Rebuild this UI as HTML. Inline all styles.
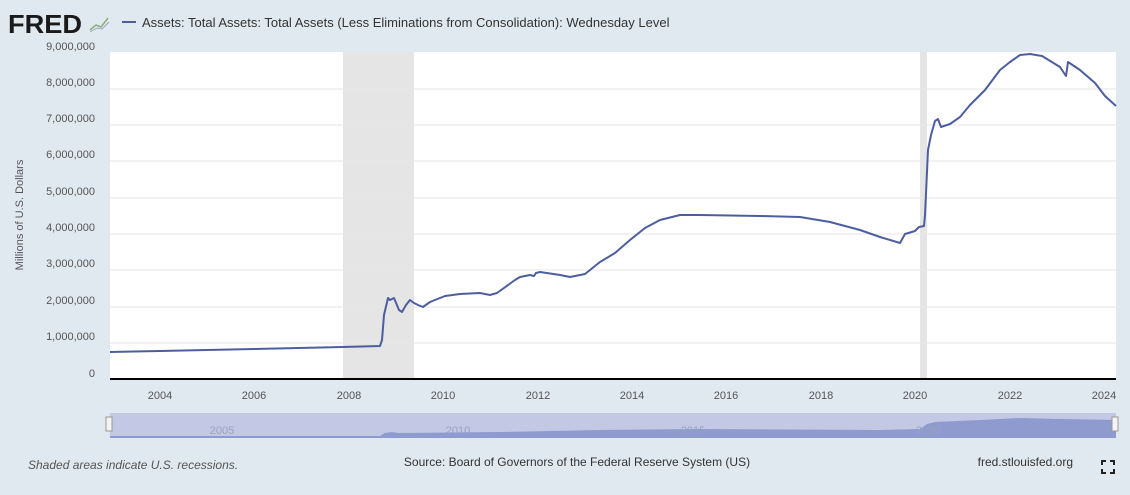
<!DOCTYPE html>
<html><head><meta charset="utf-8"><style>
body{margin:0;background:#e1e9f0;}
svg{display:block;font-family:"Liberation Sans",sans-serif;}
</style></head><body>
<svg width="1130" height="495" viewBox="0 0 1130 495">
<rect width="1130" height="495" fill="#e1e9f0"/>
<text x="8" y="33" font-size="26" font-weight="bold" fill="#1a1a1a" textLength="74" lengthAdjust="spacingAndGlyphs">FRED</text>
<polyline points="90,30 96,25 101,27 108,18" fill="none" stroke="#8ab07a" stroke-width="1.5"/>
<polyline points="90,32 97,28 102,29 109,22" fill="none" stroke="#9aa3c8" stroke-width="1"/>
<line x1="122" y1="22" x2="136" y2="22" stroke="#4d5ea0" stroke-width="2"/>
<text x="142" y="27" font-size="13" fill="#333">Assets: Total Assets: Total Assets (Less Eliminations from Consolidation): Wednesday Level</text>
<rect x="110" y="52" width="1006" height="327" fill="#fff"/>
<rect x="343" y="52" width="71" height="327" fill="#e5e5e5"/>
<rect x="920" y="52" width="7" height="327" fill="#e5e5e5"/>
<g stroke="#e6e6e6" stroke-width="1">
<line x1="110" x2="1116" y1="89" y2="89"/><line x1="110" x2="1116" y1="125" y2="125"/>
<line x1="110" x2="1116" y1="161" y2="161"/><line x1="110" x2="1116" y1="198" y2="198"/>
<line x1="110" x2="1116" y1="234" y2="234"/><line x1="110" x2="1116" y1="270" y2="270"/>
<line x1="110" x2="1116" y1="307" y2="307"/><line x1="110" x2="1116" y1="343" y2="343"/>
</g>
<line x1="110" x2="1116" y1="379" y2="379" stroke="#000" stroke-width="2"/>
<g font-size="11" fill="#555" text-anchor="end">
<text x="95" y="50">9,000,000</text><text x="95" y="86">8,000,000</text><text x="95" y="122">7,000,000</text>
<text x="95" y="158">6,000,000</text><text x="95" y="195">5,000,000</text><text x="95" y="231">4,000,000</text>
<text x="95" y="267">3,000,000</text><text x="95" y="304">2,000,000</text><text x="95" y="340">1,000,000</text>
<text x="95" y="377">0</text></g>
<text transform="translate(23,215) rotate(-90)" font-size="11" fill="#555" text-anchor="middle">Millions of U.S. Dollars</text>
<g font-size="11" fill="#555" text-anchor="middle">
<text x="160" y="399">2004</text><text x="254" y="399">2006</text><text x="349" y="399">2008</text>
<text x="443" y="399">2010</text><text x="538" y="399">2012</text><text x="632" y="399">2014</text>
<text x="726" y="399">2016</text><text x="821" y="399">2018</text><text x="915" y="399">2020</text>
<text x="1010" y="399">2022</text><text x="1104" y="399">2024</text></g>
<polyline fill="none" stroke="#4d5ea0" stroke-width="2" stroke-linejoin="round" points="110,352 160,351 254,349 343,347 380,346 382,340 384,315 388,298 390,300 394,298 399,310 402,312 406,305 410,300 414,303 418,305 423,307 430,302 445,296 460,294 480,293 490,295 497,293 515,280 520,277 530,275 534,276 536,273 540,272 560,275 570,277 585,274 600,262 615,253 630,240 645,228 660,220 680,215 700,215 760,216 800,217 830,222 860,230 880,237 900,243 905,234 915,231 919,227 924,226 925,215 928,150 931,135 935,121 938,119 941,127 950,124 960,117 970,105 985,90 1000,70 1010,62 1020,55 1030,54 1042,56 1060,67 1066,76 1068,62 1080,70 1095,83 1105,96 1116,106"/>
<rect x="110" y="413" width="1006" height="25" fill="#c3c8e5"/>
<polygon fill="#8f9bcf" points="110,436 380,436 385,433 392,432 398,433 500,432 600,430 700,429 880,430 920,429 927,424 935,422 980,420 1020,418 1060,419 1116,420 1116,438 110,438"/>
<g font-size="11" fill="#9aa0c0" text-anchor="middle">
<text x="222" y="434">2005</text><text x="458" y="434">2010</text><text x="693" y="434">2015</text><text x="928" y="434">2020</text></g>
<rect x="106" y="417" width="6" height="14" fill="#f4f4f4" stroke="#999"/>
<rect x="1112" y="417" width="6" height="14" fill="#f4f4f4" stroke="#999"/>
<text x="28" y="469" font-size="12" font-style="italic" fill="#555">Shaded areas indicate U.S. recessions.</text>
<text x="577" y="466" font-size="12" fill="#333" text-anchor="middle">Source: Board of Governors of the Federal Reserve System (US)</text>
<text x="1073" y="466" font-size="12" fill="#333" text-anchor="end">fred.stlouisfed.org</text>
<path d="M1102,465v-4h4 M1110,461h4v4 M1114,469v4h-4 M1106,473h-4v-4" fill="none" stroke="#222" stroke-width="2"/>
</svg>
</body></html>
